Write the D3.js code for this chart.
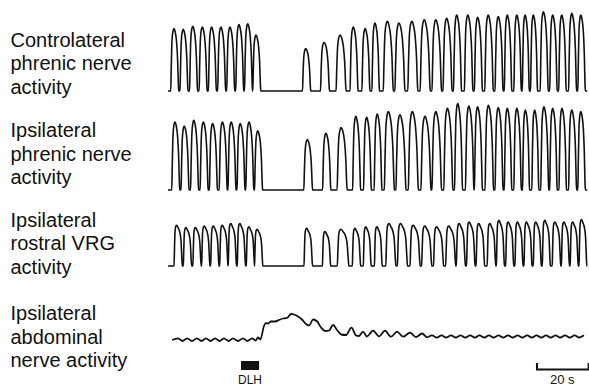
<!DOCTYPE html>
<html>
<head>
<meta charset="utf-8">
<script src="https://cdn.jsdelivr.net/npm/d3@7"></script>
<style>
  html, body { margin: 0; padding: 0; background: #fff; }
  svg { display: block; font-family: "Liberation Sans", Arial, sans-serif; }
</style>
</head>
<body>
<svg id="chart" width="589" height="387"></svg>
<script>
// burst peak times (s), relative amplitudes and burst durations (s)
const contraTimes = [2.3, 5.9, 9.6, 13.3, 16.9, 20.5, 24.0, 27.5, 30.9, 34.1,
  53.4, 60.5, 66.7, 71.8, 76.4, 80.2, 85.0, 89.5, 94.5, 99.3, 103.8, 108.0, 111.9, 116.2,
  120.0, 124.1, 128.0, 131.5, 135.2, 138.4, 141.6, 145.5, 149.1, 152.6, 156.5, 160.0];
const contraAmps = [0.78, 0.77, 0.81, 0.80, 0.80, 0.80, 0.80, 0.83, 0.84, 0.70,
  0.53, 0.61, 0.70, 0.80, 0.78, 0.85, 0.87, 0.85, 0.87, 0.89, 0.89, 0.91, 0.95, 0.95,
  0.92, 0.95, 0.93, 0.95, 0.95, 0.95, 0.95, 0.99, 0.95, 0.95, 0.97, 0.95];
const contraWidths = [3.1, 3.1, 3.1, 3.1, 3.1, 3.1, 3.1, 3.1, 3.1, 3.1,
  3.2, 3.5, 3.9, 3.1, 3.1, 2.9, 3.9, 3.9, 3.9, 3.9, 3.7, 3.5, 3.1, 3.3,
  3.1, 3.3, 3.1, 2.9, 2.9, 2.7, 2.7, 3.1, 2.9, 2.9, 3.1, 2.9];

const ipsiTimes = [2.7, 6.3, 10.0, 13.7, 17.3, 21.1, 24.5, 28.0, 31.4, 34.8,
  54.0, 61.2, 67.1, 72.8, 77.0, 81.1, 85.4, 89.9, 94.7, 99.6, 103.8, 108.3, 112.3, 116.6,
  120.0, 124.2, 128.0, 131.5, 135.2, 138.5, 142.1, 145.7, 149.1, 152.7, 156.5, 160.0];
const ipsiAmps = [0.85, 0.80, 0.87, 0.85, 0.83, 0.85, 0.85, 0.83, 0.85, 0.74,
  0.63, 0.71, 0.78, 0.92, 0.91, 0.95, 0.98, 0.94, 0.98, 0.92, 0.98, 1.02, 1.08, 1.05,
  1.04, 1.06, 1.03, 1.02, 1.02, 1.00, 1.00, 1.04, 1.02, 1.02, 1.00, 0.98];
const ipsiWidths = [3.1, 3.1, 3.1, 3.1, 3.1, 3.1, 3.1, 3.1, 3.1, 3.1,
  3.4, 3.2, 3.9, 3.1, 3.0, 3.0, 3.9, 3.9, 3.9, 3.9, 3.7, 3.5, 3.1, 3.3,
  3.1, 3.3, 3.1, 2.9, 2.9, 2.7, 2.7, 3.1, 2.9, 2.9, 3.1, 2.9];

const vrgTimes = [3.4, 7.0, 10.7, 14.1, 17.6, 21.1, 24.4, 27.9, 31.4, 34.6,
  53.8, 60.9, 67.1, 72.5, 76.7, 81.0, 85.7, 90.2, 95.1, 99.6, 104.2, 108.9, 112.9, 116.8,
  120.5, 124.8, 128.3, 131.9, 135.5, 139.0, 142.6, 146.1, 150.0, 153.5, 156.9, 160.3];
const vrgAmps = [0.51, 0.48, 0.48, 0.50, 0.50, 0.51, 0.53, 0.53, 0.49, 0.46,
  0.47, 0.43, 0.46, 0.47, 0.49, 0.49, 0.53, 0.53, 0.51, 0.50, 0.49, 0.50, 0.53, 0.55,
  0.53, 0.53, 0.57, 0.55, 0.55, 0.55, 0.55, 0.57, 0.55, 0.55, 0.55, 0.58];
const vrgWidths = [3.2, 3.2, 3.2, 3.2, 3.2, 3.2, 3.2, 3.2, 3.2, 3.2,
  3.3, 3.2, 4.5, 3.2, 3.0, 3.0, 3.9, 3.9, 3.9, 3.9, 3.9, 3.9, 3.5, 3.3,
  3.3, 3.3, 3.1, 3.1, 3.1, 3.1, 3.1, 3.1, 3.3, 3.1, 3.1, 3.0];

// abdominal nerve: sampled trace (time s, level)
const abdTimes = [1.6, 3.9, 5.6, 7.4, 9.3, 11.2, 13.0, 14.7, 16.5, 18.2, 20.0, 21.7, 23.5,
  25.2, 27.1, 29.1, 30.8, 32.6, 33.9, 34.9, 35.8, 37.2, 38.0, 38.8, 39.9, 41.5, 43.0, 44.6,
  46.1, 47.7, 48.8, 50.4, 51.9, 53.5, 54.7, 56.2, 57.8, 59.3, 60.9, 62.4, 64.0, 65.5, 67.1,
  69.0, 71.1, 72.9, 74.0, 75.6, 77.1, 79.5, 81.8, 84.1, 86.4, 88.8, 91.1, 93.8, 96.1, 98.5,
  100.4, 102.3, 104.2, 106.0, 107.8, 109.7, 111.5, 113.4, 115.2, 117.1, 118.9, 120.7, 122.6,
  124.4, 126.2, 128.1, 129.9, 131.8, 133.6, 135.5, 137.3, 139.2, 141.0, 142.8, 144.7, 146.5,
  148.3, 150.2, 152.0, 153.9, 155.7, 157.6, 159.4, 161.2];
const abdLevels = [0, 1.7, -1, 1.7, -1, 1.7, -1, 1.7, -1, 1.7, -1, 1.7, -1,
  1.7, -1, 1.7, -1, 1.7, -0.5, 2.5, 0.5, 14, 17, 16.5, 18.5, 18.5, 20, 21.5,
  22, 26, 25.5, 23.5, 20.5, 16, 14.5, 20.5, 18.5, 12.5, 9, 9.5, 15, 10, 5.5,
  5, 12.3, 4.5, 4, 8.3, 3.5, 9.3, 3.5, 9.3, 3.3, 8.3, 3.3, 7.3, 3, 6.5,
  2.7, 4.7, 2.5, 4.7, 2.5, 4.7, 2.5, 4.7, 2.5, 4.7, 2.5, 4.7, 2.5,
  4.7, 2.5, 4.7, 2.5, 4.7, 2.5, 4.7, 2.5, 4.7, 2.5, 4.7, 2.5, 4.7,
  2.5, 4.7, 2.5, 4.7, 2.5, 4.7, 2.5, 4.7];

const traceLabels = [
  ["Controlateral", "phrenic nerve", "activity"],
  ["Ipsilateral", "phrenic nerve", "activity"],
  ["Ipsilateral", "rostral VRG", "activity"],
  ["Ipsilateral", "abdominal", "nerve activity"]
];
const dlh = [28.3, 35.3];     // stimulus, s
const scaleBar = [143, 163];  // 20 s
const tEnd = 162.5;

// burst envelopes (fraction of duration, fraction of amplitude)
const phrenicShape = [[0, 0], [0.06, 0.35], [0.15, 0.78], [0.28, 0.96], [0.4, 1], [0.55, 0.95],
  [0.72, 0.8], [0.86, 0.5], [0.95, 0.12], [1, 0]];
const vrgShape = [[0, 0], [0.05, 0.4], [0.12, 0.85], [0.22, 0.98], [0.33, 1], [0.5, 0.93],
  [0.7, 0.82], [0.84, 0.62], [0.93, 0.25], [1, 0]];

const svg = d3.select('#chart');

const x = d3.scaleLinear().domain([0, 162]).range([168, 586]);

const panels = [
  { times: contraTimes, amps: contraAmps, widths: contraWidths, shape: phrenicShape,
    y: d3.scaleLinear().domain([0, 1]).range([91, 11]) },
  { times: ipsiTimes, amps: ipsiAmps, widths: ipsiWidths, shape: phrenicShape,
    y: d3.scaleLinear().domain([0, 1]).range([190, 110]) },
  { times: vrgTimes, amps: vrgAmps, widths: vrgWidths, shape: vrgShape,
    y: d3.scaleLinear().domain([0, 1]).range([266, 186]) }
];
const yAbd = d3.scaleLinear().domain([0, 40]).range([340, 300]);

function burstPoints(p) {
  const peakAt = p.shape.reduce((a, b) => (b[1] > a[1] ? b : a))[0];
  const pts = [[0, 0]];
  p.times.forEach((t, i) => {
    const w = p.widths[i];
    const t0 = t - peakAt * w;
    p.shape.forEach(([u, h]) => pts.push([t0 + u * w, h * p.amps[i]]));
  });
  pts.push([tEnd, 0]);
  return pts;
}

panels.forEach(p => {
  const line = d3.line()
    .x(d => x(d[0]))
    .y(d => p.y(d[1]))
    .curve(d3.curveMonotoneX);

  svg.append('path')
    .datum(burstPoints(p))
    .attr('d', line)
    .style('fill', 'none')
    .style('stroke', '#111')
    .style('stroke-width', 1.6)
    .style('stroke-linejoin', 'round');
});

const abdLine = d3.line()
  .x(d => x(d[0]))
  .y(d => yAbd(d[1]))
  .curve(d3.curveMonotoneX);

svg.append('path')
  .datum(abdTimes.map((t, i) => [t, abdLevels[i]]))
  .attr('d', abdLine)
  .style('fill', 'none')
  .style('stroke', '#111')
  .style('stroke-width', 1.8)
  .style('stroke-linejoin', 'round');

// labels
const labelTop = [46.5, 137, 226.7, 320];
traceLabels.forEach((lines, i) => {
  const txt = svg.append('text')
    .attr('x', 10.5)
    .attr('y', labelTop[i])
    .style('font-size', '20px')
    .style('fill', '#111');
  lines.forEach((s, j) => {
    txt.append('tspan')
      .attr('x', 10.5)
      .attr('y', labelTop[i] + j * 23.5)
      .text(s);
  });
});

// DLH stimulus marker
svg.append('rect')
  .attr('x', x(dlh[0]))
  .attr('y', 361)
  .attr('width', x(dlh[1]) - x(dlh[0]))
  .attr('height', 9)
  .style('fill', '#111');

svg.append('text')
  .attr('x', (x(dlh[0]) + x(dlh[1])) / 2)
  .attr('y', 383.5)
  .attr('text-anchor', 'middle')
  .style('font-size', '12px')
  .style('fill', '#111')
  .text('DLH');

// time scale bar
const sx0 = x(scaleBar[0]), sx1 = x(scaleBar[1]);
svg.append('path')
  .attr('d', `M${sx0},363 V369.5 H${sx1} V363`)
  .style('fill', 'none')
  .style('stroke', '#111')
  .style('stroke-width', 2);

svg.append('text')
  .attr('x', (sx0 + sx1) / 2 - 0.5)
  .attr('y', 384)
  .attr('text-anchor', 'middle')
  .style('font-size', '13px')
  .style('fill', '#111')
  .text((scaleBar[1] - scaleBar[0]) + ' s');
</script>
</body>
</html>
